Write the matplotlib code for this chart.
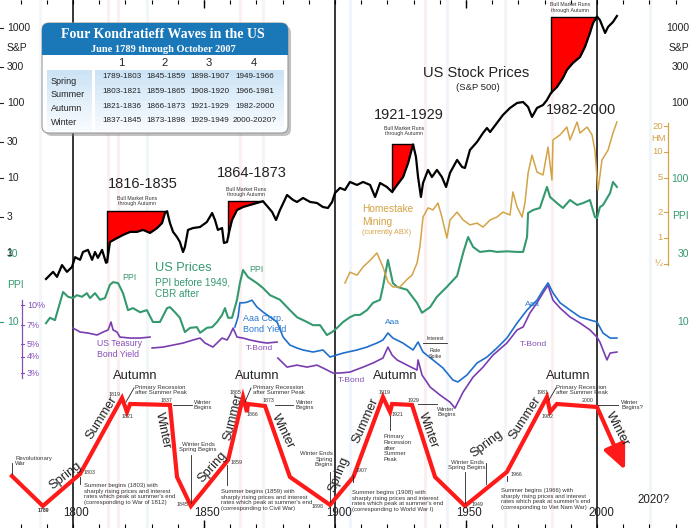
import numpy as np
import matplotlib.pyplot as plt
from matplotlib import transforms
from matplotlib.patches import FancyBboxPatch, Rectangle

plt.rcParams['font.family'] = ['Liberation Sans', 'DejaVu Sans']

# S&P 500 (log scale)
sp_years = [1789.7, 1792.4, 1793.9, 1795.8, 1797.7, 1799.6, 1800.8, 1802.7, 1803.8, 1805.7,
            1807.3, 1808.4, 1809.5, 1811.1, 1812.6, 1813.0, 1814.1, 1816.8, 1819.1, 1821.8,
            1824.4, 1826.7, 1829.4, 1832.1, 1834.0, 1835.1, 1835.9, 1837.0, 1838.2, 1839.7,
            1840.8, 1842.0, 1842.7, 1843.9, 1845.8, 1848.5, 1851.1, 1853.1, 1854.2, 1855.3,
            1856.9, 1857.6, 1858.8, 1859.5, 1860.7, 1862.6, 1864.9, 1867.6, 1870.2, 1872.5,
            1874.4, 1876.0, 1877.5, 1879.0, 1881.7, 1884.0, 1885.5, 1887.8, 1890.5, 1893.1,
            1895.4, 1897.3, 1898.9, 1900.0, 1901.9, 1903.8, 1905.7, 1908.4, 1910.7, 1913.4,
            1915.3, 1917.2, 1919.8, 1921.8, 1923.7, 1926.0, 1927.9, 1929.8, 1930.9, 1931.7,
            1932.8, 1933.6, 1935.5, 1937.0, 1938.9, 1940.8, 1942.4, 1943.9, 1946.6, 1948.5,
            1949.6, 1951.5, 1954.2, 1956.5, 1958.0, 1959.2, 1961.8, 1964.1, 1966.8, 1969.5,
            1971.8, 1973.7, 1975.2, 1977.1, 1979.4, 1980.9, 1982.4, 1984.7, 1987.0, 1988.5,
            1990.8, 1993.5, 1995.4, 1997.3, 1998.5, 2000.0, 2001.1, 2003.1, 2004.2, 2006.1,
            2007.6]
sp_vals = [0.45, 0.56, 0.48, 0.69, 0.56, 0.65, 0.88, 0.81, 1.03, 1.10,
           0.81, 1.03, 0.86, 1.10, 0.74, 0.76, 1.40, 1.58, 1.74, 1.91,
           1.91, 2.03, 1.85, 2.15, 2.51, 3.41, 3.6, 2.51, 1.91, 1.63,
           1.40, 1.03, 1.20, 2.03, 2.15, 2.22, 2.59, 3.41, 2.75, 2.03,
           2.15, 1.36, 1.40, 1.85, 2.75, 3.74, 4.10, 4.37, 4.64, 4.9,
           4.10, 3.52, 2.75, 3.74, 5.93, 5.09, 4.79, 5.41, 4.79, 4.64,
           4.10, 3.98, 4.79, 6.31, 7.36, 6.92, 8.85, 8.07, 8.85, 8.07,
           5.58, 8.58, 7.59, 6.51, 8.07, 10.3, 15.8, 28.0, 19.1, 10.3,
           5.58, 8.58, 12.8, 10.3, 12.8, 10.3, 7.59, 11.7, 17.4, 14.0,
           13.6, 23.6, 30.2, 39.8, 46.4, 41.0, 54.1, 69.2, 85.8, 100,
           103, 88.4, 65.1, 85.8, 94.0, 109.6, 136, 163, 215, 275,
           341, 410, 558, 858, 1166, 1420, 1279, 858, 1031, 1202,
           1445]

# bull markets "running through autumn"
bull_start = [1813.0, 1859.2, 1921.8, 1982.4]
bull_end = [1835.9, 1872.5, 1929.8, 2000.0]
bull_top = [3.6, 4.9, 28.0, 1420.0]

# producer prices (PPI before 1949, CBR after)
ppi_years = [1789.7, 1791.2, 1793.1, 1796.2, 1798.1, 1800.0, 1801.5, 1803.4, 1805.3, 1806.5,
             1808.4, 1810.3, 1812.2, 1814.1, 1815.3, 1817.2, 1819.1, 1821.0, 1822.9, 1825.6,
             1828.2, 1830.5, 1833.2, 1835.9, 1837.0, 1838.9, 1840.8, 1842.7, 1844.7, 1847.3,
             1848.5, 1851.1, 1853.1, 1855.0, 1856.9, 1858.0, 1859.2, 1860.7, 1862.6, 1863.7,
             1864.9, 1866.8, 1870.2, 1872.5, 1875.2, 1879.0, 1882.8, 1885.5, 1889.3, 1891.6,
             1894.3, 1896.9, 1898.9, 1900.8, 1903.1, 1905.7, 1907.6, 1909.5, 1912.2, 1914.5,
             1917.2, 1918.3, 1920.2, 1922.1, 1923.7, 1927.5, 1931.3, 1933.2, 1936.3, 1938.9,
             1942.7, 1946.6, 1948.9, 1950.8, 1952.7, 1955.3, 1959.2, 1961.8, 1965.6, 1969.5,
             1971.8, 1973.3, 1973.7, 1975.6, 1978.2, 1980.9, 1982.1, 1984.7, 1987.0, 1989.7,
             1992.4, 1994.7, 1997.3, 1999.2, 2000.0, 2001.1, 2002.3, 2005.0, 2006.1, 2007.6]
ppi_vals = [9.8, 10.7, 10.3, 16.2, 15.0, 14.7, 15.4, 15.0, 15.9, 14.7,
            15.9, 14.3, 14.7, 18.2, 19.0, 18.7, 15.9, 12.1, 12.5, 11.7,
            12.1, 10.0, 10.0, 12.5, 12.7, 11.7, 10.7, 8.5, 9.1, 9.2,
            8.4, 9.1, 9.2, 10.0, 11.2, 12.5, 10.7, 10.7, 14.3, 18.7,
            23.1, 20.6, 18.7, 17.3, 15.4, 14.3, 12.1, 10.8, 10.0, 9.5,
            9.5, 8.1, 8.5, 9.1, 10.0, 10.8, 11.2, 11.2, 12.1, 13.6,
            14.3, 17.6, 27.2, 18.7, 17.6, 16.8, 13.6, 11.6, 12.7, 15.0,
            17.6, 21.0, 30.4, 39.3, 33.5, 30.9, 31.5, 30.9, 31.2, 30.9,
            30.9, 39.3, 57.8, 60.7, 62.7, 88.0, 74.8, 67.9, 62.7, 71.3,
            65.8, 67.9, 71.3, 54.2, 53.3, 63.5, 65.8, 79.8, 95.3, 88.0]

# Homestake Mining share price
hm_years = [1903.8, 1905.7, 1908.4, 1910.7, 1913.4, 1916.0, 1917.2, 1918.3, 1920.2, 1922.1,
            1924.8, 1927.5, 1929.4, 1931.3, 1932.4, 1933.6, 1935.5, 1937.4, 1939.3, 1940.8,
            1942.7, 1943.9, 1946.6, 1948.9, 1951.5, 1954.2, 1956.5, 1959.2, 1961.8, 1964.1,
            1966.8, 1967.9, 1969.5, 1971.4, 1972.5, 1973.7, 1975.2, 1977.1, 1979.4, 1981.3,
            1982.8, 1983.2, 1985.9, 1988.5, 1989.7, 1992.4, 1993.5, 1996.2, 1998.1, 1999.2,
            2000.4, 2001.9, 2004.2, 2006.1, 2007.6]
hm_vals = [0.30, 0.40, 0.37, 0.46, 0.55, 0.67, 0.55, 0.46, 0.31, 0.27,
           0.27, 0.33, 0.37, 0.51, 0.79, 1.75, 2.24, 2.12, 2.55, 1.75,
           1.0, 1.62, 2.0, 1.62, 1.42, 1.49, 1.34, 1.62, 1.75, 2.0,
           1.85, 3.43, 2.29, 1.75, 2.55, 5.70, 9.2, 5.85, 5.4, 11.4,
           4.72, 13.8, 15.8, 19.5, 13.8, 22.3, 16.6, 19.5, 15.8, 10.5,
           3.6, 8.07, 10.5, 16.6, 22.3]

# US treasury bond yield (%), gaps where the record breaks
tb_years = [1800.0, 1802.7, 1805.7, 1809.2, 1811.5, 1813.4, 1814.5, 1815.3, 1816.8, 1817.9,
            1821.8, 1825.6, 1829.4, 1829.8, 1830.2, 1834.4, 1838.2, 1842.0, 1845.8, 1848.5,
            1850.4, 1853.4, 1856.9, 1858.8, 1859.9, 1861.1, 1862.6, 1864.9, 1867.6, 1871.4,
            1874.0, 1877.9, 1878.0, 1878.2, 1881.7, 1885.5, 1889.3, 1893.1, 1895.4, 1899.2,
            1901.9, 1905.7, 1910.7, 1914.5, 1918.3, 1920.2, 1921.8, 1923.7, 1927.5, 1931.3,
            1931.7, 1933.2, 1936.3, 1940.1, 1943.9, 1945.8, 1948.9, 1952.7, 1956.5, 1960.3,
            1965.6, 1969.5, 1971.8, 1974.4, 1977.1, 1979.4, 1981.3, 1983.2, 1985.9, 1989.7,
            1993.5, 1997.3, 2000.0, 2001.1, 2003.8, 2005.0, 2007.6]
tb_vals = [6.65, 6.20, 6.09, 5.88, 6.20, 6.43, 7.4, 6.43, 6.20, 5.67,
           5.57, 5.57, 5.67, np.nan, 4.67, 4.75, 4.92, 5.10, 5.38, 5.57,
           5.10, 4.75, 5.57, 5.38, 5.88, 6.65, 5.67, 5.57, 5.38, 5.19,
           5.10, 5.19, np.nan, 3.91, 3.33, 3.45, 3.33, 3.45, 3.28, 3.0,
           3.0, 3.05, 3.33, 3.58, 3.91, 4.75, 4.12, 3.78, 3.45, 3.16,
           3.78, 2.90, 2.34, 2.03, 1.79, 1.61, 2.14, 2.79, 3.33, 4.12,
           5.10, 6.43, 6.78, 8.68, 10.4, 12.4, 14.2, 10.9, 9.48, 8.09,
           7.27, 6.43, 5.67, 5.19, 3.78, 4.27, 4.35]

# Aaa corporate bond yield (%)
aaa_years = [1861.8, 1863.0, 1863.7, 1864.9, 1866.4, 1868.3, 1870.2, 1872.5, 1875.2, 1877.9,
             1880.2, 1882.8, 1885.5, 1887.8, 1891.6, 1895.4, 1898.1, 1903.1, 1908.4, 1912.2,
             1916.0, 1918.3, 1920.2, 1922.1, 1925.9, 1929.8, 1931.7, 1933.6, 1937.4, 1941.2,
             1945.0, 1946.9, 1950.4, 1954.2, 1958.0, 1961.8, 1965.6, 1969.5, 1973.3, 1977.1,
             1979.4, 1981.3, 1983.2, 1985.9, 1989.7, 1993.5, 1997.3, 2000.0, 2002.3, 2005.0,
             2007.6]
aaa_vals = [6.78, 8.09, 10.4, 10.4, 10.5, 10.9, 9.66, 8.84, 8.09, 7.40,
            5.67, 4.92, 4.67, 4.51, 4.35, 4.51, 3.98, 4.27, 4.51, 4.75,
            5.10, 5.38, 6.09, 5.57, 5.10, 4.51, 5.19, 4.35, 3.78, 3.28,
            2.65, 2.56, 2.90, 3.58, 3.98, 4.67, 5.57, 7.27, 9.15, 10.9,
            13.0, 14.8, 12.4, 10.4, 9.15, 8.09, 7.67, 7.40, 6.09, 5.57,
            5.57]

# the Kondratieff season wave (0 = trough, 1 = peak)
wave_years = [1776.7, 1788.5, 1802.7, 1818.7, 1820.6, 1821.8, 1837.0, 1839.7, 1845.0, 1859.2,
              1864.9, 1866.4, 1866.8, 1873.3, 1882.8, 1898.1, 1907.0, 1918.3, 1921.0, 1921.8,
              1929.4, 1938.2, 1949.6, 1965.6, 1980.9, 1982.1, 1984.7, 2000.0]
wave_level = [0.275, 0.0, 0.294, 0.991, 0.862, 0.936, 0.927, 0.266, 0.0, 0.422,
              1.0, 0.862, 0.936, 0.917, 0.266, 0.01, 0.266, 1.0, 0.862, 0.936,
              0.927, 0.266, 0.0, 0.312, 1.0, 0.862, 0.936, 0.908]
wave_end = (2010.7, 0.33)

table_cols = ['1', '2', '3', '4']
table_rows = ['Spring', 'Summer', 'Autumn', 'Winter']
table_cells = [['1789-1803', '1845-1859', '1898-1907', '1949-1966'],
               ['1803-1821', '1859-1865', '1908-1920', '1966-1981'],
               ['1821-1836', '1866-1873', '1921-1929', '1982-2000'],
               ['1837-1845', '1873-1898', '1929-1949', '2000-2020?']]

band_years = [1787.4, 1813.4, 1817.2, 1828.2, 1863.7, 1872.5, 1905.7, 1934.4, 1942.7,
              1964.9, 1982.8, 2020.2]
band_colors = ['#f4f7fa', '#fcefef', '#fcefef', '#f1f6fb', '#fcefef', '#faf3f3',
               '#eff5fb', '#fcefef', '#eff5fb', '#f3f5f8', '#fcf0f0', '#f0f5fa']

# ---- figure ----
W, H = 693, 528
fig = plt.figure(figsize=(W / 100, H / 100), dpi=100)
X0 = 1800 - 73 / 2.62
X1 = 1800 + (W - 73) / 2.62


def layer(lo, hi, log=True):
    ax = fig.add_axes([0, 0, 1, 1])
    ax.set_xlim(X0, X1)
    if log:
        ax.set_yscale('log')
    ax.set_ylim(lo, hi)
    ax.axis('off')
    return ax


ax_bg = layer(0, 1, log=False)
ax_wave = layer(-0.202, 4.642, log=False)
ax_yld = layer(10 ** -0.715, 10 ** 3.346)
ax_ppi = layer(10 ** -0.441, 10 ** 3.252)
ax_hm = layer(10 ** -3.372, 10 ** 2.767)
ax_sp = layer(10 ** -3.667, 10 ** 3.373)
ax_t = fig.add_axes([0, 0, 1, 1])
ax_t.set_xlim(0, W)
ax_t.set_ylim(H, 0)
ax_t.axis('off')

# background bands, century lines, ticks
for yr, c in zip(band_years, band_colors):
    ax_bg.axvline(yr, color=c, lw=2.2, zorder=0)
for yr in [1800, 1900, 2000]:
    ax_bg.axvline(yr, color='k', lw=1.1)
decades = np.arange(1780, 2040, 10)
ax_bg.vlines(decades, 1 - 4 / H, 1, color='k', lw=0.8)
ax_bg.vlines(decades, 0, 4 / H, color='k', lw=0.8)
ax_bg.vlines([1850, 1950], 1 - 8 / H, 1, color='k', lw=1.0)
ax_bg.vlines([1850, 1950], 0, 8 / H, color='k', lw=1.0)

# wave
RED = '#ff1a1a'
ax_wave.plot(wave_years, wave_level, color=RED, lw=3, solid_joinstyle='miter')
ax_wave.annotate('', xy=wave_end, xytext=(wave_years[-1], wave_level[-1]),
                 arrowprops=dict(arrowstyle='-|>,head_length=1.0,head_width=0.45',
                                 color=RED, lw=3, shrinkA=0, shrinkB=0,
                                 mutation_scale=15))

# yields
ax_yld.plot(tb_years, tb_vals, color='#7a3db0', lw=1.2)
ax_yld.plot(aaa_years, aaa_vals, color='#1f70cc', lw=1.2)

# prices and Homestake
ax_ppi.plot(ppi_years, ppi_vals, color='#35996f', lw=1.5)
ax_hm.plot(hm_years, hm_vals, color='#d4a346', lw=1.1)

# S&P with bull-market boxes
sp_log = np.log10(sp_vals)
for s, e, top in zip(bull_start, bull_end, bull_top):
    xs = np.linspace(s, e, 300)
    ys = 10 ** np.interp(xs, sp_years, sp_log)
    ax_sp.fill_between(xs, ys, top, color='#ff0000', lw=0, zorder=1)
    ax_sp.plot([s, s, e], [ys[0], top, top], color='k', lw=1, zorder=2)
ax_sp.plot(sp_years, sp_vals, color='k', lw=1.6, zorder=3)


# ---- axis labels tied to each scale ----
def ylabel(ax, x, v, s, color, size, ha='left'):
    tr = transforms.blended_transform_factory(ax_t.transData, ax.transData)
    ax.text(x, v, s, transform=tr, color=color, fontsize=size, ha=ha, va='center')


def ytick(ax, x0, x1, v, color):
    tr = transforms.blended_transform_factory(ax_t.transData, ax.transData)
    ax.plot([x0, x1], [v, v], transform=tr, color=color, lw=0.8)


GRAY = '#222222'
GREEN = '#35996f'
GOLD = '#d4a346'
PURP = '#8650b8'
for v, s in [(1000, '1000'), (300, '300'), (100, '100'), (30, '30'), (10, '10'), (3, '3')]:
    ylabel(ax_sp, 7, v, s, GRAY, 7.5)
    ytick(ax_sp, 0, 3, v, GRAY)
for v, s in [(1000, '1000'), (540, 'S&P'), (300, '300'), (100, '100')]:
    ylabel(ax_sp, 689, v, s, GRAY, 7.5, ha='right')
ylabel(ax_sp, 7, 540, 'S&P', GRAY, 7.5)
# S&P "1" and PPI "30" share a spot on the left edge, as in the original
ylabel(ax_ppi, 7, 30, '30', GREEN, 7.5)
ylabel(ax_sp, 6, 1, '1', GRAY, 7.5)
ylabel(ax_ppi, 7, 18.2, 'PPI', GREEN, 7.5)
ylabel(ax_ppi, 7, 10, '10', GREEN, 7.5)
ytick(ax_ppi, 0, 3, 10, GREEN)
for v, s in [(100, '100'), (55, 'PPI'), (30, '30'), (10, '10')]:
    ylabel(ax_ppi, 689, v, s, GREEN, 7.5, ha='right')

# Homestake axis
tr_hm = transforms.blended_transform_factory(ax_t.transData, ax_hm.transData)
ax_hm.plot([668, 668], [22, 0.48], transform=tr_hm, color=GOLD, lw=0.9)
for v, s in [(20, '20'), (10, '10'), (5, '5'), (2, '2'), (1, '1'), (0.5, '\u00bd')]:
    ytick(ax_hm, 664, 668, v, GOLD)
    ylabel(ax_hm, 663, v, s, GOLD, 6.8, ha='right')
ylabel(ax_hm, 666, 14.2, 'HM', GOLD, 6.8, ha='right')

# yield axis
tr_y = transforms.blended_transform_factory(ax_t.transData, ax_yld.transData)
ax_yld.plot([22, 22], [10.9, 2.75], transform=tr_y, color=PURP, lw=0.9)
for v in [10, 7, 5, 4, 3]:
    ytick(ax_yld, 21, 24, v, PURP)
    ylabel(ax_yld, 27, v, '%d%%' % v, PURP, 6.5)


# ---- text annotations (pixel positions) ----
def t(x, y, s, size=4.3, color='#333333', ha='left', va='center', **kw):
    ax_t.text(x, y, s, fontsize=size, color=color, ha=ha, va=va, **kw)


def ln(x0, y0, x1, y1, lw=0.6):
    ax_t.plot([x0, x1], [y0, y1], color='#222222', lw=lw)


t(476, 73, 'US Stock Prices', 10.5, GRAY, ha='center')
t(478, 88, '(S&P 500)', 6.8, GRAY, ha='center')
t(143, 184, '1816-1835', 10.5, GRAY, ha='center')
t(137, 201, 'Bull Market Runs\nthrough Autumn', 3.8, ha='center')
t(252, 173, '1864-1873', 10.5, GRAY, ha='center')
t(246, 192, 'Bull Market Runs\nthrough Autumn', 3.8, ha='center')
t(409, 115, '1921-1929', 10.5, GRAY, ha='center')
t(404, 131, 'Bull Market Runs\nthrough Autumn', 3.8, ha='center')
t(581, 110, '1982-2000', 10.5, GRAY, ha='center')
t(570, 7.5, 'Bull Market Runs\nthrough Autumn', 3.8, ha='center')

t(362, 209, 'Homestake', 7.3, GOLD)
t(362, 222, 'Mining', 7.3, GOLD)
t(362, 232, '(currently ABX)', 5.2, GOLD)
t(155, 268, 'US Prices', 9.2, GREEN)
t(155, 288, 'PPI before 1949,\nCBR after', 7.2, GREEN)
t(122, 278, 'PPI', 6.4, GREEN)
t(249, 269, 'PPI', 6.4, GREEN)
BLUE = '#2a78d0'
t(243, 324, 'Aaa Corp.\nBond Yield', 6.5, BLUE)
t(97, 349, 'US Teasury\nBond Yield', 6.3, PURP)
t(246, 349, 'T-Bond', 6.0, PURP)
t(338, 381, 'T-Bond', 6.0, PURP)
t(520, 344, 'T-Bond', 6.0, PURP)
t(385, 323, 'Aaa', 6.0, BLUE)
t(525, 304, 'Aaa', 6.0, BLUE)
t(435, 339, 'Interest', 3.8, ha='center')
ln(423, 343, 447, 343)
t(435, 348, 'Rate\nSpike', 3.8, ha='center', va='top')

# seasons along the wave
for x, y, s, rot in [(65, 476, 'Spring', 38), (102, 418, 'Summer', 58), (163, 431, 'Winter', -78),
                     (212, 467, 'Spring', 48), (233, 417, 'Summer', 76), (283, 431, 'Winter', -64),
                     (339, 474, 'Spring', 68), (366, 421, 'Summer', 66), (428, 430, 'Winter', -70),
                     (487, 444, 'Spring', 37), (525, 418, 'Summer', 57), (617, 429, 'Winter', -62)]:
    t(x, y, s, 9.3, GRAY, ha='center', rotation=rot, rotation_mode='anchor')
for x in [135, 257, 395, 568]:
    t(x, 376, 'Autumn', 9.3, GRAY, ha='center')

# notes on the wave
t(15, 461, 'Revolutionary\nWar')
ln(12, 463, 12, 474)
t(43, 510, '1789', 3.8, ha='center', weight='bold')
t(84, 473, '1803', 3.8)
ln(80, 477, 80, 484)
t(84, 494, "Summer begins (1803) with\nsharply rising prices and interest\n"
           "rates which peak at summer's end\n(corresponding to War of 1812)")
t(121, 394, '1819', 3.8, ha='right')
t(127, 416, '1821', 3.8, ha='center')
t(135, 390, 'Primary Recession\nafter Summer Peak')
ln(134, 388, 126, 402)
t(166, 401, '1837', 3.8, ha='center')
t(194, 405, 'Winter\nBegins')
ln(173, 405, 192, 405)
t(198, 447, 'Winter Ends\nSpring Begins', ha='center')
ln(191, 455, 191, 503)
t(182, 505, '1845', 3.8, ha='center')
t(231, 462, '1859', 3.8)
ln(227, 465, 227, 485)
t(221, 500, "Summer begins (1859) with\nsharply rising prices and interest\n"
            "rates which peak at summer's end\n(corresponding to Civil War)")
t(241, 392, '1865', 3.8, ha='right')
t(252, 415, '1866', 3.8, ha='center')
t(253, 390, 'Primary Recession\nafter Summer Peak')
ln(251, 388, 245, 402)
t(268, 401, '1873', 3.8, ha='center')
t(296, 405, 'Winter\nBegins')
ln(275, 405, 293, 405)
t(333, 459, 'Winter Ends\nSpring\nBegins', ha='right', multialignment='right')
ln(330, 472, 330, 502)
t(318, 506, '1898', 3.8, ha='center')
t(356, 471, '1907', 3.8)
ln(353, 475, 353, 482)
t(352, 501, "Summer begins (1908) with\nsharply rising prices and interest\n"
            "rates which peak at summer's end\n(corresponding to World War I)")
t(385, 392, '1919', 3.8, ha='center')
t(397, 415, '1921', 3.8, ha='center')
ln(390, 416, 390, 430)
t(384, 448, 'Primary\nRecession\nafter\nSummer\nPeak')
t(413, 401, '1929', 3.8, ha='center')
t(437, 412, 'Winter\nBegins')
ln(418, 404, 437, 404)
t(467, 465, 'Winter Ends\nSpring Begins', ha='center')
ln(465, 472, 465, 503)
t(477, 505, '1949', 3.8, ha='center')
ln(486, 463, 486, 484)
t(511, 474, '1966', 3.8)
ln(507, 476, 507, 481)
t(501, 499, "Summer begins (1966) with\nsharply rising prices and interest\n"
            "rates which peak at summer's end\n(corresponding to Viet Nam War)", 4.2)
t(543, 392, '1981', 3.8, ha='center')
t(547, 417, '1982', 3.8, ha='center')
t(556, 390, 'Primary Recession\nafter Summer Peak')
ln(556, 388, 549, 400)
t(588, 401, '2000', 3.8, ha='center')
t(621, 405, 'Winter\nBegins?')
ln(598, 405, 618, 405)

# year labels
for x, s in [(76, '1800'), (207, '1850'), (339, '1900'), (469, '1950'), (601, '2000')]:
    t(x, 513, s, 8.3, GRAY, ha='center')
t(653, 500, '2020?', 8.3, GRAY, ha='center')

# ---- the table box ----
BLUE_H = '#1a78b8'
ax_t.add_patch(FancyBboxPatch((45, 26), 246, 110, boxstyle='round,pad=0,rounding_size=7',
                              fc='#777777', ec='none', alpha=0.45))
ax_t.add_patch(FancyBboxPatch((42, 23), 246, 110, boxstyle='round,pad=0,rounding_size=7',
                              fc='white', ec='#9a9a9a', lw=0.8))
ax_t.add_patch(FancyBboxPatch((42, 23), 246, 32, boxstyle='round,pad=0,rounding_size=7',
                              fc=BLUE_H, ec='none'))
ax_t.add_patch(Rectangle((42, 45), 246, 10, fc=BLUE_H, ec='none'))
top_c = np.array([0.80, 0.89, 0.96])
bot_c = np.array([0.97, 0.985, 1.0])
n = 12
for i in range(n):
    c = top_c + (bot_c - top_c) * i / (n - 1)
    y = 70 + i * 61 / n
    ax_t.add_patch(Rectangle((47, y), 45, 61 / n + 0.3, fc=c, ec='none'))
    ax_t.add_patch(Rectangle((95, y), 189, 61 / n + 0.3, fc=c, ec='none'))
t(163, 35, 'Four Kondratieff Waves in the US', 10, 'white', ha='center',
  family='Liberation Serif', weight='bold')
t(163, 49, 'June 1789 through October 2007', 7.5, 'white', ha='center',
  family='Liberation Serif', weight='bold')
col_x = [121, 165, 209, 254]
for x, s in zip(col_x, table_cols):
    t(x, 63, s, 8, GRAY, ha='center')
for j, s in enumerate(table_rows):
    t(51, 81 + j * 13.7, s, 6.5, GRAY)
    for x, cell in zip(col_x, table_cells[j]):
        t(x + 1, 77 + j * 14.6, cell, 5.9, GRAY, ha='center')

fig.savefig('out.png', dpi=100)
